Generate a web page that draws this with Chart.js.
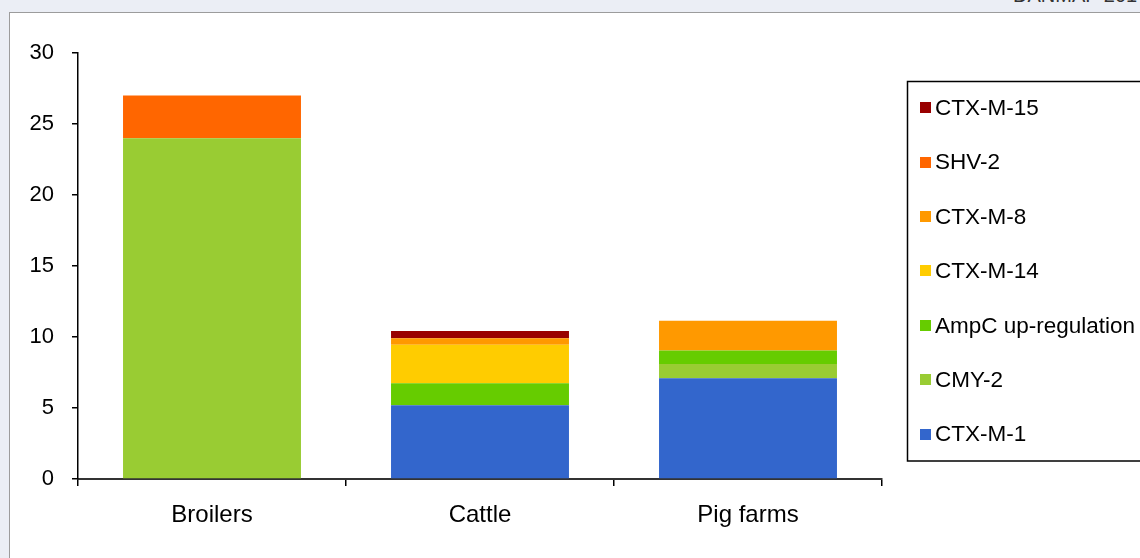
<!DOCTYPE html>
<html>
<head>
<meta charset="utf-8">
<script src="https://cdn.jsdelivr.net/npm/chart.js@4"></script>
<style>
  html, body { margin:0; padding:0; }
  body { width:1140px; height:558px; overflow:hidden; background:#ebeef5; position:relative; font-family:"Liberation Sans", Arial, sans-serif; }
  #frame { position:absolute; left:9px; top:12px; width:1200px; height:600px; background:#fff; border:1px solid #9c9c9c; box-sizing:border-box; }
  #hdr { position:absolute; left:1013px; top:-15px; font-size:20px; line-height:1; color:#333; white-space:nowrap; }
  #wrap { position:absolute; left:0; top:0; width:1140px; height:558px; }
</style>
</head>
<body>
<div id="hdr">DANMAP 2014</div>
<div id="frame"></div>
<div id="wrap"><canvas id="c" width="1140" height="558"></canvas></div>
<script>
const categories = ['Broilers', 'Cattle', 'Pig farms'];
const seriesNames = ['CTX-M-1', 'CMY-2', 'AmpC up-regulation', 'CTX-M-14', 'CTX-M-8', 'SHV-2', 'CTX-M-15'];
const ctxM1  = [0,   5.2,  7.1];
const cmy2   = [24,  0,    1.0];
const ampC   = [0,   1.55, 0.95];
const ctxM14 = [0,   2.7,  0];
const ctxM8  = [0,   0.47, 2.1];
const shv2   = [3.0, 0,    0];
const ctxM15 = [0,   0.5,  0];
const yTicks = [0, 5, 10, 15, 20, 25, 30];
const colors = ['#3366CC', '#99CC33', '#66CC00', '#FFCC00', '#FF9900', '#FF6600', '#990000'];
const seriesValues = [ctxM1, cmy2, ampC, ctxM14, ctxM8, shv2, ctxM15];

const datasets = seriesNames.map((n, i) => ({
  label: n,
  data: seriesValues[i],
  backgroundColor: colors[i],
  borderWidth: 0,
  barPercentage: 0.664,
  categoryPercentage: 1.0
}));

const boxLegend = {
  id: 'boxLegend',
  afterDraw(chart) {
    const ctx = chart.ctx;
    ctx.save();
    ctx.strokeStyle = '#000';
    ctx.lineWidth = 1.5;
    ctx.strokeRect(907.5, 81.5, 300, 379.5);
    ctx.font = '22.5px "Liberation Sans", Arial, sans-serif';
    ctx.textBaseline = 'middle';
    ctx.fillStyle = '#000';
    const ds = chart.data.datasets.slice().reverse();
    ds.forEach((d, k) => {
      const cy = 107.7 + k * 54.4;
      ctx.fillStyle = d.backgroundColor;
      ctx.fillRect(920, Math.round(cy - 5.5), 11, 11);
      ctx.fillStyle = '#000';
      ctx.fillText(d.label, 935, cy + 1);
    });
    ctx.restore();
  }
};

new Chart(document.getElementById('c'), {
  type: 'bar',
  data: { labels: categories, datasets },
  options: {
    responsive: false,
    animation: false,
    layout: { padding: { left: 0, top: 53, right: 258, bottom: 0 } },
    plugins: { legend: { display: false }, tooltip: { enabled: false } },
    scales: {
      x: {
        stacked: true,
        afterFit: s => { s.height = 79; },
        grid: { display: true, drawOnChartArea: false, drawTicks: true, tickLength: 7, color: '#000', lineWidth: 1.5, offset: true },
        border: { display: true, color: '#333', width: 2 },
        ticks: { color: '#000', padding: 15, font: { family: '"Liberation Sans", Arial, sans-serif', size: 24 } }
      },
      y: {
        stacked: true,
        min: 0, max: 30,
        afterFit: s => { s.width = 78; },
        afterBuildTicks: s => { s.ticks = yTicks.map(v => ({ value: v })); },
        grid: { display: true, drawOnChartArea: false, drawTicks: true, tickLength: 6, color: '#000', lineWidth: 1.5 },
        border: { display: true, color: '#000', width: 1.5 },
        ticks: { color: '#000', padding: 18, font: { family: '"Liberation Sans", Arial, sans-serif', size: 22 } }
      }
    }
  },
  plugins: [boxLegend]
});
</script>
</body>
</html>
